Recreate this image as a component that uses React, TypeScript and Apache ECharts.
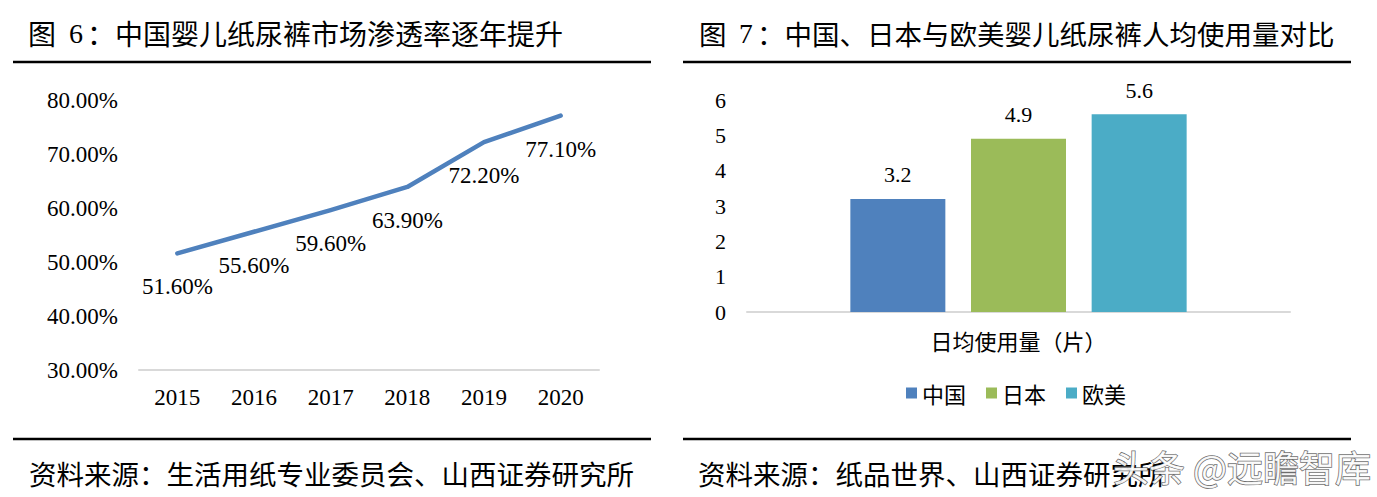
import React, { useEffect, useRef } from "react";
import * as echarts from "echarts";

const years = ["2015", "2016", "2017", "2018", "2019", "2020"];
const penetration = [51.6, 55.6, 59.6, 63.9, 72.2, 77.1];

const barCategory = ["日均使用量（片）"];
const regions = ["中国", "日本", "欧美"];
const dailyUse = [3.2, 4.9, 5.6];
const regionColors = ["#4F81BD", "#9BBB59", "#4BACC6"];

const leftTitle = "：中国婴儿纸尿裤市场渗透率逐年提升";
const rightTitle = "：中国、日本与欧美婴儿纸尿裤人均使用量对比";
const leftSource = "资料来源：生活用纸专业委员会、山西证券研究所";
const rightSource = "资料来源：纸品世界、山西证券研究所";
const watermark = "头条 @远瞻智库";

const CJK = "'Noto Sans CJK SC', 'Noto Sans', sans-serif";
const SERIF = "'Times New Roman', 'Liberation Serif', serif";

export default function App() {
  const ref = useRef<HTMLDivElement>(null);
  useEffect(() => {
    if (!ref.current) return;
    const chart = echarts.init(ref.current, undefined, { renderer: "svg" });
    const txt = (x: number, y: number, text: string, size: number, family: string, extra: any = {}) => ({
      type: "text",
      x,
      y,
      style: {
        text,
        fontSize: size,
        fontFamily: family,
        fill: "#000",
        verticalAlign: "middle",
        align: "left",
        ...extra,
      },
    });
    const hline = (x1: number, x2: number, y: number) => ({
      type: "line",
      shape: { x1, y1: y, x2, y2: y },
      style: { stroke: "#000", lineWidth: 2.5 },
    });
    chart.setOption({
      animation: false,
      backgroundColor: "#fff",
      grid: [
        { left: 139, right: 1377 - 599, top: 100, bottom: 497 - 370 },
        { left: 747, right: 1377 - 1290, top: 100, bottom: 497 - 312 },
      ],
      xAxis: [
        {
          type: "category",
          gridIndex: 0,
          data: years,
          boundaryGap: true,
          axisLine: { lineStyle: { color: "#D9D9D9", width: 2 } },
          axisTick: { show: false },
          axisLabel: { color: "#000", fontSize: 23, fontFamily: SERIF, margin: 16 },
        },
        {
          type: "category",
          gridIndex: 1,
          data: barCategory,
          axisLine: { lineStyle: { color: "#D9D9D9", width: 2 } },
          axisTick: { show: false },
          axisLabel: { color: "#000", fontSize: 22, fontFamily: CJK, margin: 17 },
        },
      ],
      yAxis: [
        {
          type: "value",
          gridIndex: 0,
          min: 30,
          max: 80,
          interval: 10,
          axisLine: { show: false },
          axisTick: { show: false },
          splitLine: { show: false },
          axisLabel: {
            color: "#000",
            fontSize: 23,
            fontFamily: SERIF,
            margin: 21,
            formatter: (v: number) => v.toFixed(2) + "%",
          },
        },
        {
          type: "value",
          gridIndex: 1,
          min: 0,
          max: 6,
          interval: 1,
          axisLine: { show: false },
          axisTick: { show: false },
          splitLine: { show: false },
          axisLabel: { color: "#000", fontSize: 22, fontFamily: SERIF, margin: 21 },
        },
      ],
      legend: {
        data: regions,
        left: 901,
        top: 377,
        icon: "rect",
        itemWidth: 11,
        itemHeight: 11,
        itemGap: 20,
        textStyle: { color: "#000", fontSize: 22, fontFamily: CJK },
      },
      series: [
        {
          type: "line",
          xAxisIndex: 0,
          yAxisIndex: 0,
          data: penetration,
          symbol: "circle",
          symbolSize: 2,
          itemStyle: { color: "#4F81BD" },
          lineStyle: { color: "#4F81BD", width: 4.5, cap: "round", join: "round" },
          label: {
            show: true,
            position: "bottom",
            distance: 21,
            color: "#000",
            fontSize: 23,
            fontFamily: SERIF,
            formatter: (p: any) => Number(p.value).toFixed(2) + "%",
          },
        },
        ...regions.map((name, i) => ({
          type: "bar",
          name,
          xAxisIndex: 1,
          yAxisIndex: 1,
          data: [dailyUse[i]],
          barWidth: 95,
          barGap: "27%",
          itemStyle: { color: regionColors[i] },
          label: {
            show: true,
            position: "top",
            distance: 13,
            color: "#000",
            fontSize: 22,
            fontFamily: SERIF,
          },
        })),
      ],
      graphic: [
        txt(28, 33, "图", 28, CJK),
        txt(69, 33, "6", 28, SERIF),
        txt(87, 33, leftTitle, 28, CJK),
        hline(13, 651, 62),
        txt(699, 33, "图", 27.5, CJK),
        txt(739, 33, "7", 27.5, SERIF),
        txt(757, 33, rightTitle, 27.5, CJK),
        hline(683, 1351, 62),
        hline(13, 651, 439),
        hline(683, 1351, 439),
        txt(29, 473, leftSource, 27.5, CJK),
        txt(698, 473, rightSource, 27.5, CJK),
        txt(1113, 466, watermark, 36, CJK, {
          fill: "rgba(255,255,255,0.92)",
          stroke: "rgba(60,60,60,0.75)",
          lineWidth: 1.5,
        }),
      ],
    });
    return () => chart.dispose();
  }, []);
  return (
    <div
      ref={ref}
      style={{ position: "absolute", left: 0, top: 0, width: 1377, height: 497, background: "#fff" }}
    />
  );
}
